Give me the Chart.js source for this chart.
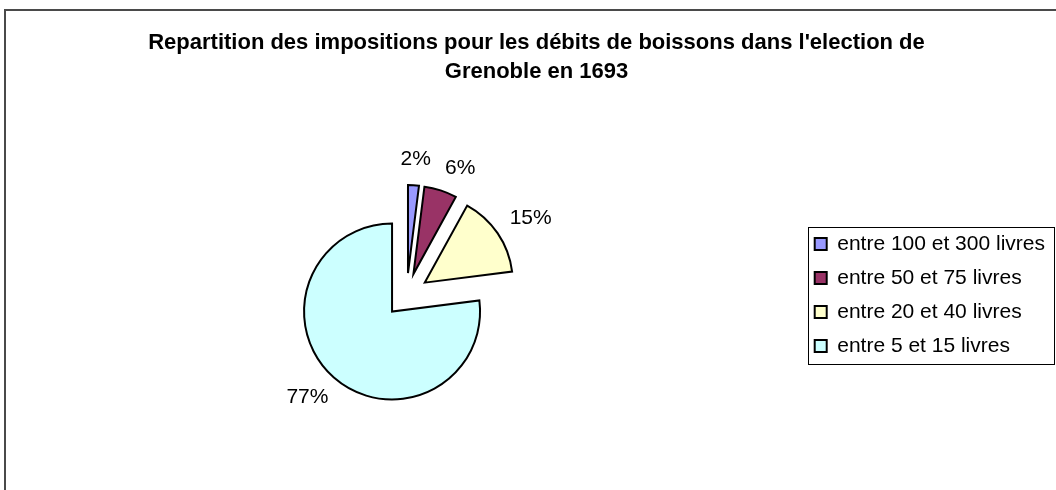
<!DOCTYPE html>
<html>
<head>
<meta charset="utf-8">
<script src="https://cdn.jsdelivr.net/npm/chart.js@4/dist/chart.umd.min.js"></script>
<style>
  html, body { margin: 0; padding: 0; background: #ffffff; }
  #wrap { position: relative; width: 1056px; height: 490px; overflow: hidden; }
  #frame { position: absolute; left: 4px; top: 9px; width: 1200px; height: 700px;
           border-left: 2px solid #4a4a4a; border-top: 2px solid #4a4a4a; }
  #c { position: absolute; left: 0; top: 0; }
</style>
</head>
<body>
<div id="wrap">
  <div id="frame"></div>
  <canvas id="c" width="1056" height="490"></canvas>
</div>
<script>
// ---- data ----
const titleLines = [
  "Repartition des impositions pour les débits de boissons dans l'election de",
  "Grenoble en 1693"
];
const categories = [
  "entre 100 et 300 livres",
  "entre 50 et 75 livres",
  "entre 20 et 40 livres",
  "entre 5 et 15 livres"
];
const shares = [2, 6, 15, 77];
const sliceColors = ["#9999FF", "#993366", "#FFFFCC", "#CCFFFF"];

// ---- style constants ----
const FONT = '"Liberation Sans", Arial, sans-serif';
const EXPLODE = 22;      // distance each slice is pulled out
const LABEL_GAP = 19;    // gap between slice edge and its label
const LABEL_SEP = 14;    // minimum horizontal separation between neighbouring labels
const LEGEND_GAP = 6.5;  // space between plot area and legend

// pulls each slice out along its bisector (Excel-like exploded pie)
const explodePlugin = {
  id: 'explode',
  beforeDatasetDraw(chart, args) {
    const ctx = chart.ctx;
    args.meta.data.forEach(arc => {
      const mid = (arc.startAngle + arc.endAngle) / 2;
      ctx.save();
      ctx.translate(Math.cos(mid) * EXPLODE, Math.sin(mid) * EXPLODE);
      arc.draw(ctx);
      ctx.restore();
    });
    return false;
  }
};

// percentage labels outside the slices
const labelPlugin = {
  id: 'sliceLabels',
  afterDatasetsDraw(chart) {
    const ctx = chart.ctx;
    const meta = chart.getDatasetMeta(0);
    const data = chart.data.datasets[0].data;
    const total = data.reduce((a, b) => a + b, 0);
    ctx.save();
    ctx.font = '21px ' + FONT;
    ctx.fillStyle = '#000';
    ctx.textAlign = 'center';
    ctx.textBaseline = 'middle';
    const placed = [];
    meta.data.forEach((arc, i) => {
      const txt = Math.round(data[i] / total * 100) + '%';
      const mid = (arc.startAngle + arc.endAngle) / 2;
      const dx = Math.cos(mid), dy = Math.sin(mid);
      const w = ctx.measureText(txt).width, h = 15;
      const D = arc.outerRadius + EXPLODE + LABEL_GAP;
      let x = arc.x + dx * D + dx * w / 2;
      let y = arc.y + dy * D + dy * h / 2;
      // nudge clockwise along the tangent if it crowds the previous label
      const prev = placed[placed.length - 1];
      if (prev) {
        const tx = -dy, ty = dx;
        for (let k = 0; k < 200; k++) {
          const overlapY = Math.abs(y - prev.y) < (h + prev.h) / 2 + 4;
          const gapX = Math.abs(x - prev.x) - (w + prev.w) / 2;
          if (!overlapY || gapX >= LABEL_SEP) break;
          x += tx * 0.5; y += ty * 0.5;
        }
      }
      placed.push({ x, y, w, h });
      ctx.fillText(txt, x, y);
    });
    ctx.restore();
  }
};

// frame around the legend
const legendFrame = {
  id: 'legendFrame',
  afterDraw(chart) {
    const lg = chart.legend;
    const hb = lg && lg.legendHitBoxes;
    if (!hb || !hb.length) return;
    const last = hb[hb.length - 1];
    const left = Math.round(hb[0].left - 7) + 0.5;
    const top = Math.round(hb[0].top - 7) + 0.5;
    const right = Math.round(lg.right) - 0.5;
    const bottom = Math.round(last.top + last.height + 7) + 0.5;
    const ctx = chart.ctx;
    ctx.save();
    ctx.strokeStyle = '#000';
    ctx.lineWidth = 1;
    ctx.strokeRect(left, top, right - left, bottom - top);
    ctx.restore();
  }
};

// empty layout box that keeps a small gap between pie area and legend
const legendGap = {
  id: 'legendGap',
  beforeInit(chart) {
    const box = {
      position: 'right', weight: 500, fullSize: false,
      options: { stackWeight: 1 },
      left: 0, top: 0, right: 0, bottom: 0, width: 0, height: 0,
      update(maxWidth, maxHeight) { this.width = LEGEND_GAP; this.height = maxHeight; },
      isHorizontal() { return false; },
      getPadding() { return { left: 0, top: 0, right: 0, bottom: 0 }; },
      draw() {}
    };
    Chart.layouts.addBox(chart, box);
  }
};

new Chart(document.getElementById('c'), {
  type: 'pie',
  data: {
    labels: categories,
    datasets: [{
      data: shares,
      backgroundColor: sliceColors,
      borderColor: '#000',
      borderWidth: 2,
      borderJoinStyle: 'miter'
    }]
  },
  options: {
    responsive: false,
    animation: false,
    radius: 88,
    layout: { padding: { left: 18, right: 1, top: 0, bottom: 0 } },
    plugins: {
      title: {
        display: true,
        text: titleLines,
        color: '#000',
        font: { family: FONT, size: 22, weight: 'bold', lineHeight: 29 / 22 },
        padding: { top: 28.5, bottom: 13.5 }
      },
      legend: {
        display: true,
        position: 'right',
        align: 'center',
        fullSize: false,
        labels: {
          color: '#000',
          boxWidth: 12,
          boxHeight: 12,
          padding: 13,
          font: { family: FONT, size: 21 }
        }
      },
      tooltip: { enabled: false }
    }
  },
  plugins: [legendGap, explodePlugin, labelPlugin, legendFrame]
});
</script>
</body>
</html>
